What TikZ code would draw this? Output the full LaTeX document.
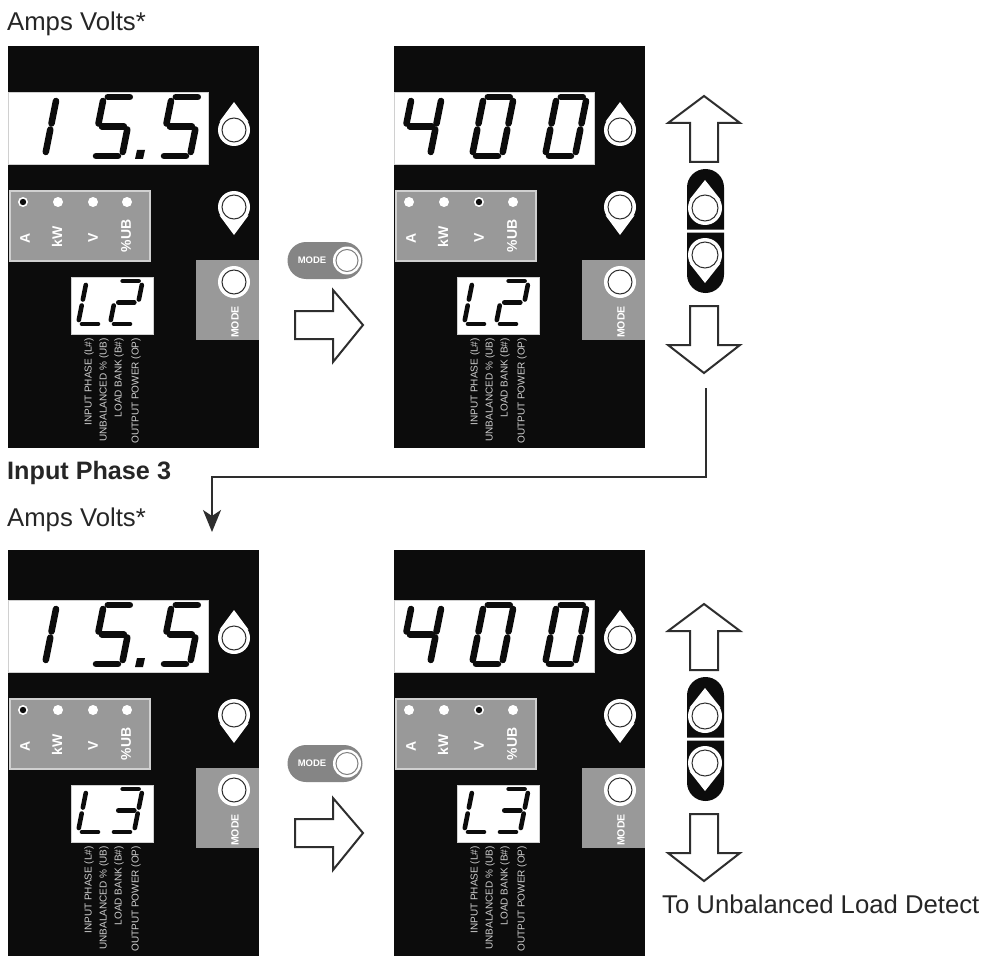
\documentclass[tikz,border=0pt]{standalone}
\usepackage{fontspec}
\setmainfont{Liberation Sans}
\usetikzlibrary{arrows.meta}
\definecolor{pblack}{HTML}{0C0C0C}
\definecolor{pgray}{HTML}{999999}
\definecolor{pedge}{HTML}{D0D0D0}
\definecolor{pline}{HTML}{2E2E2E}
\definecolor{ppill}{HTML}{858585}
\tikzset{
  seg/.style={line width=\dLW pt,line cap=round,draw=pblack},
  blockarrow/.style={draw=pline,fill=white,line width=2pt,line join=miter},
  displaybox/.style={fill=white,draw=pedge,line width=1pt},
  ledbox/.style={fill=pgray,draw=pedge,line width=1.6pt},
  ledlabel/.style={rotate=90,text=white,font=\fontsize{14}{14}\selectfont\bfseries,inner sep=0pt},
  modelabel/.style={text=white,font=\fontsize{10.5}{10.5}\selectfont\bfseries,inner sep=0pt},
  legendtext/.style={rotate=90,anchor=east,text=pedge,font=\fontsize{10}{10}\selectfont,inner sep=0pt},
  caption/.style={anchor=base west,inner sep=0pt,text=black!85,font=\fontsize{25.7}{25.7}\selectfont},
  conn/.style={draw=pline,line width=2pt,-{Stealth[length=22pt,width=18pt,inset=6pt]}},
}
\def\dLW{5}
\def\sgA{\draw[seg] (4,-\dH) -- (\dW-4,-\dH);}
\def\sgB{\draw[seg] (\dW,-\dH+4) -- (\dW,-\dH/2-3);}
\def\sgC{\draw[seg] (\dW,-\dH/2+3) -- (\dW,-4);}
\def\sgD{\draw[seg] (4,0) -- (\dW-4,0);}
\def\sgE{\draw[seg] (0,-\dH/2+3) -- (0,-4);}
\def\sgF{\draw[seg] (0,-\dH+4) -- (0,-\dH/2-3);}
\def\sgG{\draw[seg] (4,-\dH/2) -- (\dW-4,-\dH/2);}
\newcommand\dg[5]{\begin{scope}[shift={(#1,#2)},xslant=0.2]\def\dW{#3}\def\dH{#4}#5\end{scope}}
\newcommand\dgbig[2]{\def\dLW{6.5}\dg{#1}{110}{30}{59}{#2}}
\newcommand\dgsmall[2]{\def\dLW{4.6}\dg{#1}{278}{24}{43}{#2}}
% button: #1 x, #2 y, #3 tip offset (0 = none), #4 radius
\newcommand\btn[4]{%
  \fill[white] (#1,#2) circle (#4);
  \fill[white] (#1,#2+#3) -- (#1-#4+1.5,#2+#3*0.3) -- (#1+#4-1.5,#2+#3*0.3) -- cycle;
  \draw[pline,line width=1pt] (#1,#2) circle (#4-4);
}
% panel: #1 name, #2 x, #3 y, #4 extra height above, #5 active LED x, #6 digits, #7 small digits
\newcommand\panel[7]{%
\begin{scope}[shift={(#2,#3)}]
  \node[fill=pblack,inner sep=0pt,minimum width=251pt,minimum height=402pt+#4 pt,anchor=north west] (#1) at (0,-#4) {};
  \node[displaybox,inner sep=0pt,minimum width=200pt,minimum height=72pt,anchor=north west] (#1disp) at (0,46) {};
  #6
  \btn{226}{84}{-28}{16}
  \btn{226}{161}{28}{16}
  \node[ledbox,inner sep=0pt,minimum width=140pt,minimum height=70pt,anchor=north west] (#1led) at (1,144) {};
  \foreach \lx in {15,50,85,119}{\fill[white] (\lx,156) circle (5);}
  \fill[pblack] (#5,156) circle (3.2);
  \node[ledlabel] (#1a) at (17,192) {A};
  \node[ledlabel] (#1k) at (49,191) {kW};
  \node[ledlabel] (#1v) at (85,192) {V};
  \node[ledlabel] (#1u) at (118,190) {\%UB};
  \node[fill=pgray,inner sep=0pt,minimum width=63pt,minimum height=80pt,anchor=north west] (#1mode) at (188,214) {};
  \btn{226}{236}{0}{16}
  \node[modelabel,rotate=90] (#1mt) at (227,276) {MODE};
  \node[displaybox,inner sep=0pt,minimum width=82pt,minimum height=57pt,anchor=north west] (#1sm) at (63,231) {};
  #7
  \node[legendtext] (#1l1) at (81,292) {INPUT PHASE (L\#)};
  \node[legendtext] (#1l2) at (96,292) {UNBALANCED \% (UB)};
  \node[legendtext] (#1l3) at (111,292) {LOAD BANK (B\#)};
  \node[legendtext] (#1l4) at (128,292) {OUTPUT POWER (OP)};
\end{scope}}
\newcommand\digitsAmps{\dgbig{7}{\sgB\sgC}\dgbig{84}{\sgA\sgF\sgG\sgC\sgD}\dgbig{152}{\sgA\sgF\sgG\sgC\sgD}%
  \fill[pblack] (129,104) -- (137,104) -- (135,113) -- (127,113) -- cycle;}
\newcommand\digitsVolts{\dgbig{6}{\sgF\sgB\sgG\sgC}\dgbig{78}{\sgA\sgB\sgC\sgD\sgE\sgF}\dgbig{151}{\sgA\sgB\sgC\sgD\sgE\sgF}}
\newcommand\smallLtwo{\dgsmall{70}{\sgF\sgE\sgD}\dgsmall{102}{\sgA\sgB\sgG\sgE\sgD}}
\newcommand\smallLthree{\dgsmall{70}{\sgF\sgE\sgD}\dgsmall{102}{\sgA\sgB\sgG\sgC\sgD}}
% up/down block arrows and the pill
\newcommand\updown[1]{%
\begin{scope}[shift={(0,#1)}]
  \draw[blockarrow] (704,96) -- (740,123) -- (718,123) -- (718,162) -- (690,162) -- (690,123) -- (668,123) -- cycle;
  \draw[blockarrow] (704,373) -- (740,345) -- (718,345) -- (718,306) -- (690,306) -- (690,345) -- (668,345) -- cycle;
  \fill[pblack] (687,229.5) -- (687,187.5) arc[start angle=180,end angle=360,radius=18.5] -- (724,229.5) -- cycle;
  \fill[pblack] (687,232.5) -- (687,274.5) arc[start angle=180,end angle=0,radius=18.5] -- (724,232.5) -- cycle;
  \btn{705}{208}{-28}{17}
  \btn{705}{255}{28}{17}
\end{scope}}
\newcommand\modepill[3]{%
\begin{scope}[shift={(0,#2)}]
  \fill[ppill] (306,242) -- (344,242) arc[start angle=-90,end angle=90,radius=18.5] -- (306,279) arc[start angle=90,end angle=270,radius=18.5] -- cycle;
  \fill[white] (347,260.5) circle (14);
  \draw[gray,line width=1pt] (347,260.5) circle (11);
  \node[modelabel,font=\fontsize{9.5}{9.5}\selectfont\bfseries] (#1) at (312,260.5) {MODE};
\end{scope}
\begin{scope}[shift={(0,#3)}]
  \draw[blockarrow] (363,325) -- (333,290) -- (333,311) -- (295,311) -- (295,339) -- (333,339) -- (333,362) -- cycle;
\end{scope}}
\begin{document}
\begin{tikzpicture}[x=1pt,y=-1pt]
\useasboundingbox (0,0) rectangle (982,960);
\fill[white] (0,0) rectangle (982,960);
\panel{pa}{8}{46}{0}{15}{\digitsAmps}{\smallLtwo}
\panel{pb}{394}{46}{0}{85}{\digitsVolts}{\smallLtwo}
\panel{pc}{8}{554}{4}{15}{\digitsAmps}{\smallLthree}
\panel{pd}{394}{554}{4}{85}{\digitsVolts}{\smallLthree}
\modepill{ma}{0}{0}
\modepill{mb}{503}{508}
\updown{0}
\updown{508}
\node[caption] (t1) at (7,30.5) {Amps Volts*};
\node[caption,font=\fontsize{25.2}{25.2}\selectfont\bfseries] (t2) at (7,479) {Input Phase 3};
\node[caption] (t3) at (7,526) {Amps Volts*};
\node[caption] (t4) at (662,913) {To Unbalanced Load Detect};
\coordinate (c1) at (706,388);
\coordinate (c2) at (212,532);
\coordinate (cy) at (0,476.5);
\draw[conn] (c1) -- (c1 |- cy) -- (c2 |- cy) -- (c2);
\end{tikzpicture}
\end{document}
